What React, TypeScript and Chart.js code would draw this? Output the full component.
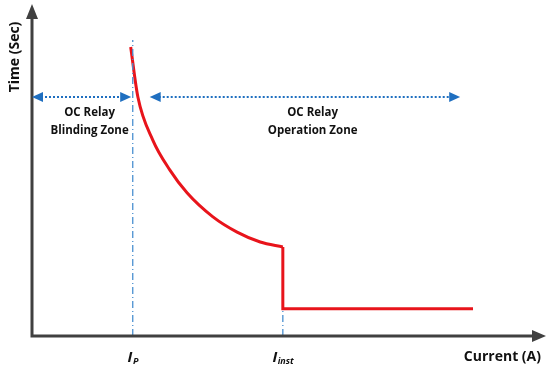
import React, { useEffect, useRef } from "react";
import { Chart, registerables } from "chart.js";

Chart.register(...registerables);

// Relay characteristic (arbitrary units: current 0..100, time 0..100)
const curveCurrent = [19.2, 20.6, 23.5, 26.8, 30.2, 35.2, 39.9, 44.4, 48.8];
const curveTime = [87.3, 72.2, 59.2, 50.2, 43.2, 36.0, 31.4, 28.4, 26.9];
const stepCurrent = [48.8, 48.8, 85.8];
const stepTime = [26.9, 8.2, 8.2];

const pickupCurrent = 19.6; // I_P
const instCurrent = 48.8; // I_inst
const pickupLineTop = 89.4;
const instLineTop = 8.2;

const zoneArrowTime = 72.2;
const blindingZone = [0, 19.3];
const operationZone = [22.9, 83.3];

const zoneLabels = [
  { lines: ["OC Relay", "Blinding Zone"], x: 11.2 },
  { lines: ["OC Relay", "Operation Zone"], x: 54.6 },
];
const xAxisTitle = "Current (A)";
const yAxisTitle = "Time (Sec)";
const tickLabels = [
  { main: "I", sub: "P", x: pickupCurrent },
  { main: "I", sub: "inst", x: instCurrent },
];

const FONT = "'Open Sans', Lato, sans-serif";

const overlay = {
  id: "overlay",
  afterDraw(chart: any) {
    const { ctx, chartArea } = chart;
    const xs = chart.scales.x;
    const ys = chart.scales.y;
    const L = chartArea.left, B = chartArea.bottom, R = chartArea.right, T = chartArea.top;
    ctx.save();

    // axes
    const axisColor = "#404040";
    ctx.strokeStyle = axisColor;
    ctx.fillStyle = axisColor;
    ctx.lineWidth = 3;
    ctx.beginPath();
    ctx.moveTo(L, B + 1.5);
    ctx.lineTo(L, T + 13);
    ctx.moveTo(L - 1.5, B);
    ctx.lineTo(R - 13, B);
    ctx.stroke();
    ctx.beginPath();
    ctx.moveTo(L, T - 1);
    ctx.lineTo(L - 6, T + 14);
    ctx.lineTo(L + 6, T + 14);
    ctx.closePath();
    ctx.fill();
    ctx.beginPath();
    ctx.moveTo(R, B);
    ctx.lineTo(R - 14, B - 6);
    ctx.lineTo(R - 14, B + 6);
    ctx.closePath();
    ctx.fill();

    // zone arrows
    const blue = "#1f6fc0";
    const ay = ys.getPixelForValue(zoneArrowTime);
    const drawArrow = (x1: number, x2: number) => {
      ctx.strokeStyle = blue;
      ctx.fillStyle = blue;
      ctx.lineWidth = 2;
      ctx.setLineDash([2, 2]);
      ctx.beginPath();
      ctx.moveTo(x1 + 9, ay);
      ctx.lineTo(x2 - 9, ay);
      ctx.stroke();
      ctx.setLineDash([]);
      ctx.beginPath();
      ctx.moveTo(x1, ay);
      ctx.lineTo(x1 + 11, ay - 5);
      ctx.lineTo(x1 + 11, ay + 5);
      ctx.closePath();
      ctx.fill();
      ctx.beginPath();
      ctx.moveTo(x2, ay);
      ctx.lineTo(x2 - 11, ay - 5);
      ctx.lineTo(x2 - 11, ay + 5);
      ctx.closePath();
      ctx.fill();
    };
    drawArrow(xs.getPixelForValue(blindingZone[0]), xs.getPixelForValue(blindingZone[1]));
    drawArrow(xs.getPixelForValue(operationZone[0]), xs.getPixelForValue(operationZone[1]));

    // zone labels
    ctx.fillStyle = "#111";
    ctx.font = `bold 11.5px ${FONT}`;
    ctx.textAlign = "center";
    ctx.textBaseline = "middle";
    zoneLabels.forEach((z) => {
      const px = xs.getPixelForValue(z.x);
      z.lines.forEach((t, i) => ctx.fillText(t, px, ay + 16 + i * 18));
    });

    // axis titles
    ctx.font = `bold 14px ${FONT}`;
    ctx.textAlign = "right";
    ctx.textBaseline = "alphabetic";
    ctx.fillText(xAxisTitle, R - 5, B + 25);
    ctx.save();
    ctx.translate(L - 17, T + 52);
    ctx.rotate(-Math.PI / 2);
    ctx.textAlign = "center";
    ctx.textBaseline = "middle";
    ctx.fillText(yAxisTitle, 0, 0);
    ctx.restore();

    // tick labels with subscripts
    ctx.textAlign = "left";
    tickLabels.forEach((t) => {
      const px = xs.getPixelForValue(t.x);
      ctx.font = `italic bold 15px ${FONT}`;
      const w1 = ctx.measureText(t.main).width;
      ctx.font = `italic bold 9px ${FONT}`;
      const w2 = ctx.measureText(t.sub).width;
      const start = px - (w1 + w2) / 2;
      ctx.font = `italic bold 15px ${FONT}`;
      ctx.fillText(t.main, start, B + 26);
      ctx.font = `italic bold 9px ${FONT}`;
      ctx.fillText(t.sub, start + w1 + 0.5, B + 28);
    });

    ctx.restore();
  },
};

export default function App() {
  const ref = useRef<HTMLCanvasElement | null>(null);
  useEffect(() => {
    document.body.style.margin = "0";
    const lineBlue = "#4a90d0";
    const chart = new Chart(ref.current!, {
      type: "line",
      data: {
        datasets: [
          {
            data: [
              { x: pickupCurrent, y: 0 },
              { x: pickupCurrent, y: pickupLineTop },
            ],
            borderColor: lineBlue,
            borderWidth: 1.3,
            borderDash: [7, 3, 1, 3],
            pointRadius: 0,
          },
          {
            data: [
              { x: instCurrent, y: 0 },
              { x: instCurrent, y: instLineTop },
            ],
            borderColor: lineBlue,
            borderWidth: 1.3,
            borderDash: [7, 3, 1, 3],
            pointRadius: 0,
          },
          {
            data: curveCurrent.map((x, i) => ({ x, y: curveTime[i] })),
            borderColor: "#e8141b",
            borderWidth: 3,
            pointRadius: 0,
            cubicInterpolationMode: "monotone",
          },
          {
            data: stepCurrent.map((x, i) => ({ x, y: stepTime[i] })),
            borderColor: "#e8141b",
            borderWidth: 3,
            pointRadius: 0,
            tension: 0,
          },
        ],
      },
      options: {
        animation: false,
        responsive: false,
        layout: { padding: { left: 32, right: 4, top: 5, bottom: 36 } },
        plugins: { legend: { display: false }, tooltip: { enabled: false } },
        scales: {
          x: { type: "linear", min: 0, max: 100, display: false },
          y: { type: "linear", min: 0, max: 100, display: false },
        },
      },
      plugins: [overlay],
    } as any);
    return () => chart.destroy();
  }, []);
  return (
    <div style={{ width: 550, height: 372, background: "#fff" }}>
      <canvas ref={ref} width={550} height={372} />
    </div>
  );
}
